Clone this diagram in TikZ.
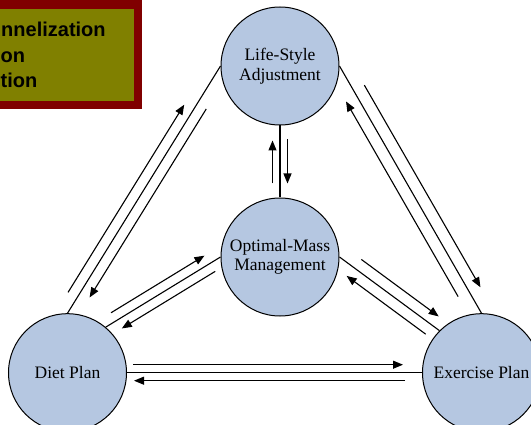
\documentclass[tikz,border=0pt]{standalone}
\usepackage{fontspec}
\setmainfont{Liberation Serif}
\newfontfamily\boxfont{Liberation Sans}
\usetikzlibrary{calc,arrows.meta}
\definecolor{circfill}{RGB}{181,199,225}
\definecolor{boxfill}{RGB}{128,128,0}
\definecolor{boxline}{RGB}{128,0,0}
\tikzset{
  stage/.style={draw, circle, fill=circfill, line width=1pt, minimum size=118pt, inner sep=0pt, align=center, font=\fontsize{17.5}{19.5}\selectfont},
  link/.style={line width=1.1pt},
  arr/.style={line width=1.1pt, -{Triangle[length=10pt,width=8pt]}},
  boxtext/.style={anchor=base west, inner sep=0pt, font=\boxfont\bfseries\fontsize{20}{24}\selectfont}
}

\begin{document}
\begin{tikzpicture}[x=1pt, y=1pt]
    \useasboundingbox (0,0) rectangle (531,424);
    \clip (0,0) rectangle (531,424);
    % Title box
    \draw[boxline, fill=boxfill, line width=8.5pt] (-20,319) rectangle (138,419.5);
    \node[boxtext] (t1) at (1,387) {nnelization};
    \node[boxtext] (t2) at (0.5,361) {on};
    \node[boxtext] (t3) at (0.5,336) {tion};
    % Nodes
    \node[stage] (ls) at (280,358) {Life-Style\\Adjustment};
    \node[stage] (om) at (280,167) {Optimal-Mass\\Management};
    \node[stage] (dp) at (67.5,51.3) {Diet Plan};
    \node[stage] (ep) at (481.5,51.3) {Exercise Plan};
    % Links
    \draw[link] (dp.north) -- (ls.west);
    \draw[link] (ls.east) -- (ep.north);
    \draw[link] (ls.south) -- (om.north);
    \draw[link] (dp.east) -- (ep.west);
    \draw[link] (dp.50) -- (om.west);
    \draw[link] (om.east) -- (ep.north west);
    % Arrows
    \draw[arr] ($(dp.north)!18pt!(ls.west)!10.5pt!90:(ls.west)$) -- ($(ls.west)!52pt!(dp.north)!10.5pt!-90:(dp.north)$);
    \draw[arr] ($(ls.west)!44pt!(dp.north)!10.5pt!90:(dp.north)$) -- ($(dp.north)!25pt!(ls.west)!10.5pt!-90:(ls.west)$);
    \draw[arr] ($(ls.east)!29pt!(ep.north)!12pt!90:(ep.north)$) -- ($(ep.north)!23pt!(ls.east)!12pt!-90:(ls.east)$);
    \draw[arr] ($(ep.north)!26pt!(ls.east)!12pt!90:(ls.east)$) -- ($(ls.east)!34pt!(ep.north)!12pt!-90:(ep.north)$);
    \draw[arr] ($(ls.south)!14pt!(om.north)!7.5pt!90:(om.north)$) -- ($(om.north)!14pt!(ls.south)!7.5pt!-90:(ls.south)$);
    \draw[arr] ($(om.north)!14pt!(ls.south)!7.5pt!90:(ls.south)$) -- ($(ls.south)!15pt!(om.north)!7.5pt!-90:(om.north)$);
    \draw[arr] ($(dp.east)!6pt!(ep.west)!8pt!90:(ep.west)$) -- ($(ep.west)!19pt!(dp.east)!8pt!-90:(dp.east)$);
    \draw[arr] ($(ep.west)!17pt!(dp.east)!8pt!90:(dp.east)$) -- ($(dp.east)!7pt!(ep.west)!8pt!-90:(ep.west)$);
    \draw[arr] ($(dp.50)!12pt!(om.west)!9.5pt!90:(om.west)$) -- ($(om.west)!13pt!(dp.50)!9.5pt!-90:(dp.50)$);
    \draw[arr] ($(om.west)!12pt!(dp.50)!9.5pt!90:(dp.50)$) -- ($(dp.50)!13pt!(om.west)!9.5pt!-90:(om.west)$);
    \draw[arr] ($(om.east)!19pt!(ep.north west)!11pt!90:(ep.north west)$) -- ($(ep.north west)!9pt!(om.east)!11pt!-90:(om.east)$);
    \draw[arr] ($(ep.north west)!9pt!(om.east)!11pt!90:(om.east)$) -- ($(om.east)!17pt!(ep.north west)!11pt!-90:(ep.north west)$);
\end{tikzpicture}
\end{document}
